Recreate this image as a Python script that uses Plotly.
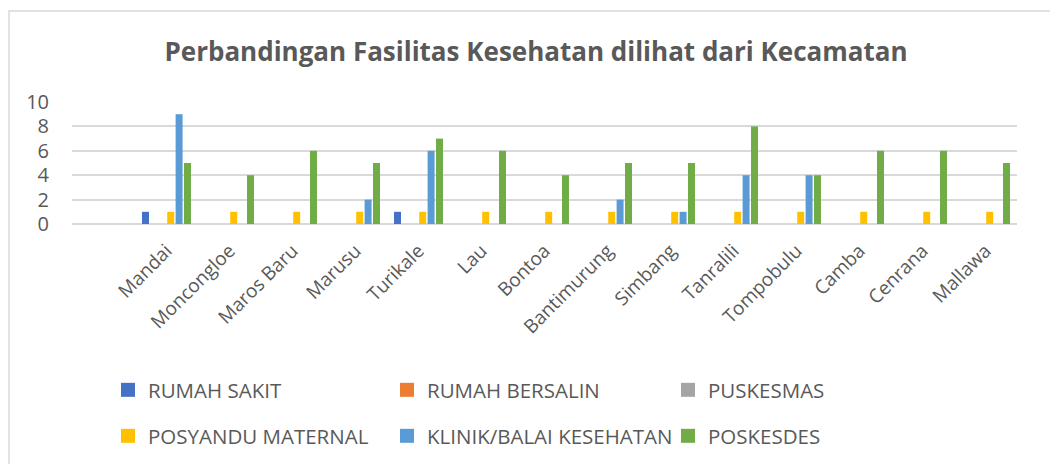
import plotly.graph_objects as go

categories = ["Mandai", "Moncongloe", "Maros Baru", "Marusu", "Turikale", "Lau", "Bontoa",
              "Bantimurung", "Simbang", "Tanralili", "Tompobulu", "Camba", "Cenrana", "Mallawa"]
rumah_sakit = [1, 0, 0, 0, 1, 0, 0, 0, 0, 0, 0, 0, 0, 0]
rumah_bersalin = [0, 0, 0, 0, 0, 0, 0, 0, 0, 0, 0, 0, 0, 0]
puskesmas = [0, 0, 0, 0, 0, 0, 0, 0, 0, 0, 0, 0, 0, 0]
posyandu_maternal = [1, 1, 1, 1, 1, 1, 1, 1, 1, 1, 1, 1, 1, 1]
klinik = [9, 0, 0, 2, 6, 0, 0, 2, 1, 4, 4, 0, 0, 0]
poskesdes = [5, 4, 6, 5, 7, 6, 4, 5, 5, 8, 4, 6, 6, 5]
y_ticks = [0, 2, 4, 6, 8, 10]

series_names = ["RUMAH SAKIT", "RUMAH BERSALIN", "PUSKESMAS",
                "POSYANDU MATERNAL", "KLINIK/BALAI KESEHATAN", "POSKESDES"]
series_values = [rumah_sakit, rumah_bersalin, puskesmas, posyandu_maternal, klinik, poskesdes]
series_colors = ["#4472C4", "#ED7D31", "#A5A5A5", "#FFC000", "#5B9BD5", "#70AD47"]

FONT = "Open Sans"
GREY = "#595959"

# page offset caused by default body margin
OFF = 8
W, H = 1058 - OFF, 464 - OFF
# plot area in page pixels: x 72..1017, y 102..224
L = 72 - OFF
T = 102 - OFF
R = W - (1017 - OFF)
B = H - (224 - OFF)
pw = W - L - R
ph = H - T - B


def px_x(px):
    return (px - OFF - L) / pw


def px_y(py):
    return (H - B - (py - OFF)) / ph


fig = go.Figure()
legend_cols = [108, 387, 668]
legend_rows = [390, 436]
legend_layouts = {}
for i, (name, vals, color) in enumerate(zip(series_names, series_values, series_colors)):
    key = "legend" if i == 0 else f"legend{i + 1}"
    fig.add_trace(go.Bar(x=categories, y=vals, name=name,
                         marker=dict(color=color, line=dict(width=0)),
                         legendgroup=name, showlegend=False))
    # legend-only entry with a square swatch
    fig.add_trace(go.Scatter(x=[None], y=[None], mode="markers", name=name,
                             marker=dict(symbol="square", size=14, color=color),
                             legendgroup=name, legend=key, showlegend=True))
    legend_layouts[key] = dict(
        x=px_x(legend_cols[i % 3]), y=px_y(legend_rows[i // 3]),
        xanchor="left", yanchor="middle", orientation="h",
        font=dict(family=FONT, size=20.5, color=GREY), bgcolor="rgba(0,0,0,0)",
        itemclick=False, itemdoubleclick=False)

fig.update_layout(
    width=W, height=H,
    margin=dict(l=L, r=R, t=T, b=B, autoexpand=False),
    paper_bgcolor="white", plot_bgcolor="white",
    font=dict(family=FONT, color=GREY),
    title=dict(text="<b>Perbandingan Fasilitas Kesehatan dilihat dari Kecamatan</b>",
               x=(536 - OFF) / W, xanchor="center", y=1 - (52 - OFF) / H, yanchor="middle",
               font=dict(family=FONT, size=26, color=GREY)),
    barmode="group", bargap=0.2, bargroupgap=0.17,
    xaxis=dict(type="category", range=[-1.5, len(categories) - 0.5], tickangle=-45,
               showgrid=False, showline=False, zeroline=False, ticks="",
               tickfont=dict(family=FONT, size=19, color=GREY), automargin=False,
               ticklabelstandoff=11),
    yaxis=dict(range=[0, 10], tickvals=y_ticks, showgrid=True, gridcolor="#D9D9D9", gridwidth=1.5,
               zeroline=True, zerolinecolor="#D9D9D9", zerolinewidth=1.5, showline=False, ticks="",
               tickfont=dict(family=FONT, size=20, color=GREY), automargin=False,
               ticklabelstandoff=22),
    showlegend=True,
    shapes=[dict(type="rect", xref="paper", yref="paper",
                 x0=px_x(9), x1=px_x(1075), y0=px_y(480), y1=px_y(11),
                 line=dict(color="#D9D9D9", width=1.5), fillcolor="rgba(0,0,0,0)", layer="below")],
    **legend_layouts,
)

fig.write_html("out.html")
